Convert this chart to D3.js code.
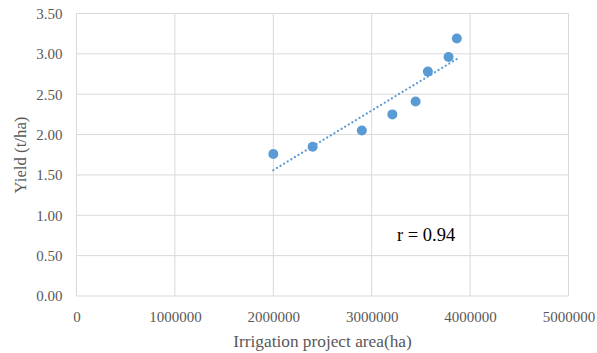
<!DOCTYPE html>
<html>
<head>
<meta charset="utf-8">
<script src="https://cdn.jsdelivr.net/npm/d3@7"></script>
<style>
  body { margin: 0; background: #fff; }
  .grid line { stroke: #d9d9d9; stroke-width: 1; }
</style>
</head>
<body>
<div id="chart"></div>
<script>
// values
var area = [2000000, 2400000, 2900000, 3210000, 3446000, 3571000, 3781000, 3865000];
var yieldVals = [1.76, 1.85, 2.05, 2.25, 2.41, 2.78, 2.96, 3.19];
var xTicks = [0, 1000000, 2000000, 3000000, 4000000, 5000000];
var yTicks = [0, 0.5, 1, 1.5, 2, 2.5, 3, 3.5];
var rLabel = "r = 0.94";

var width = 597, height = 353;
var margin = {top: 13.5, right: 28.5, bottom: 57, left: 76.5};
var serif = "Liberation Serif";

var svg = d3.select("#chart").append("svg")
    .attr("width", width)
    .attr("height", height);

var x = d3.scaleLinear().domain([0, 5000000]).range([margin.left, width - margin.right]);
var y = d3.scaleLinear().domain([0, 3.5]).range([height - margin.bottom, margin.top]);

// gridlines
svg.append("g").attr("class", "grid")
  .selectAll("line").data(yTicks).enter().append("line")
    .attr("x1", x(0)).attr("x2", x(5000000))
    .attr("y1", function(d) { return y(d); })
    .attr("y2", function(d) { return y(d); });

svg.append("g").attr("class", "grid")
  .selectAll("line").data(xTicks).enter().append("line")
    .attr("y1", y(0)).attr("y2", y(3.5))
    .attr("x1", function(d) { return x(d); })
    .attr("x2", function(d) { return x(d); });

// axes (labels only)
var xAxis = svg.append("g")
    .attr("transform", "translate(0," + y(0) + ")")
    .call(d3.axisBottom(x).tickValues(xTicks).tickFormat(d3.format("d")).tickSize(0).tickPadding(15));
xAxis.select(".domain").remove();

var yAxis = svg.append("g")
    .attr("transform", "translate(" + x(0) + ",0)")
    .call(d3.axisLeft(y).tickValues(yTicks).tickFormat(d3.format(".2f")).tickSize(0).tickPadding(14));
yAxis.select(".domain").remove();

svg.selectAll(".tick text")
    .attr("font-family", serif)
    .attr("font-size", 15)
    .attr("fill", "#595959");

// linear trend line
var mx = d3.mean(area), my = d3.mean(yieldVals);
var sxy = d3.sum(area, function(d, i) { return (d - mx) * (yieldVals[i] - my); });
var sxx = d3.sum(area, function(d) { return (d - mx) * (d - mx); });
var slope = sxy / sxx, icpt = my - slope * mx;
var xr = d3.extent(area);

svg.append("line")
    .attr("x1", x(xr[0])).attr("y1", y(icpt + slope * xr[0]))
    .attr("x2", x(xr[1])).attr("y2", y(icpt + slope * xr[1]))
    .attr("stroke", "#5b9bd5")
    .attr("stroke-width", 2.2)
    .attr("stroke-linecap", "round")
    .attr("stroke-dasharray", "0.1,4.1");

// points
svg.append("g").selectAll("circle")
  .data(area).enter().append("circle")
    .attr("cx", function(d) { return x(d); })
    .attr("cy", function(d, i) { return y(yieldVals[i]); })
    .attr("r", 5)
    .attr("fill", "#5b9bd5");

// titles
svg.append("text")
    .attr("x", (x(0) + x(5000000)) / 2)
    .attr("y", 347)
    .attr("text-anchor", "middle")
    .attr("font-family", serif)
    .attr("font-size", 17.3)
    .attr("fill", "#595959")
    .text("Irrigation project area(ha)");

svg.append("text")
    .attr("transform", "translate(25.5,155) rotate(-90)")
    .attr("text-anchor", "middle")
    .attr("font-family", serif)
    .attr("font-size", 16.8)
    .attr("fill", "#595959")
    .text("Yield (t/ha)");

svg.append("text")
    .attr("x", 397).attr("y", 241)
    .attr("font-family", serif)
    .attr("font-size", 18.5)
    .attr("fill", "#000")
    .text(rLabel);
</script>
</body>
</html>
